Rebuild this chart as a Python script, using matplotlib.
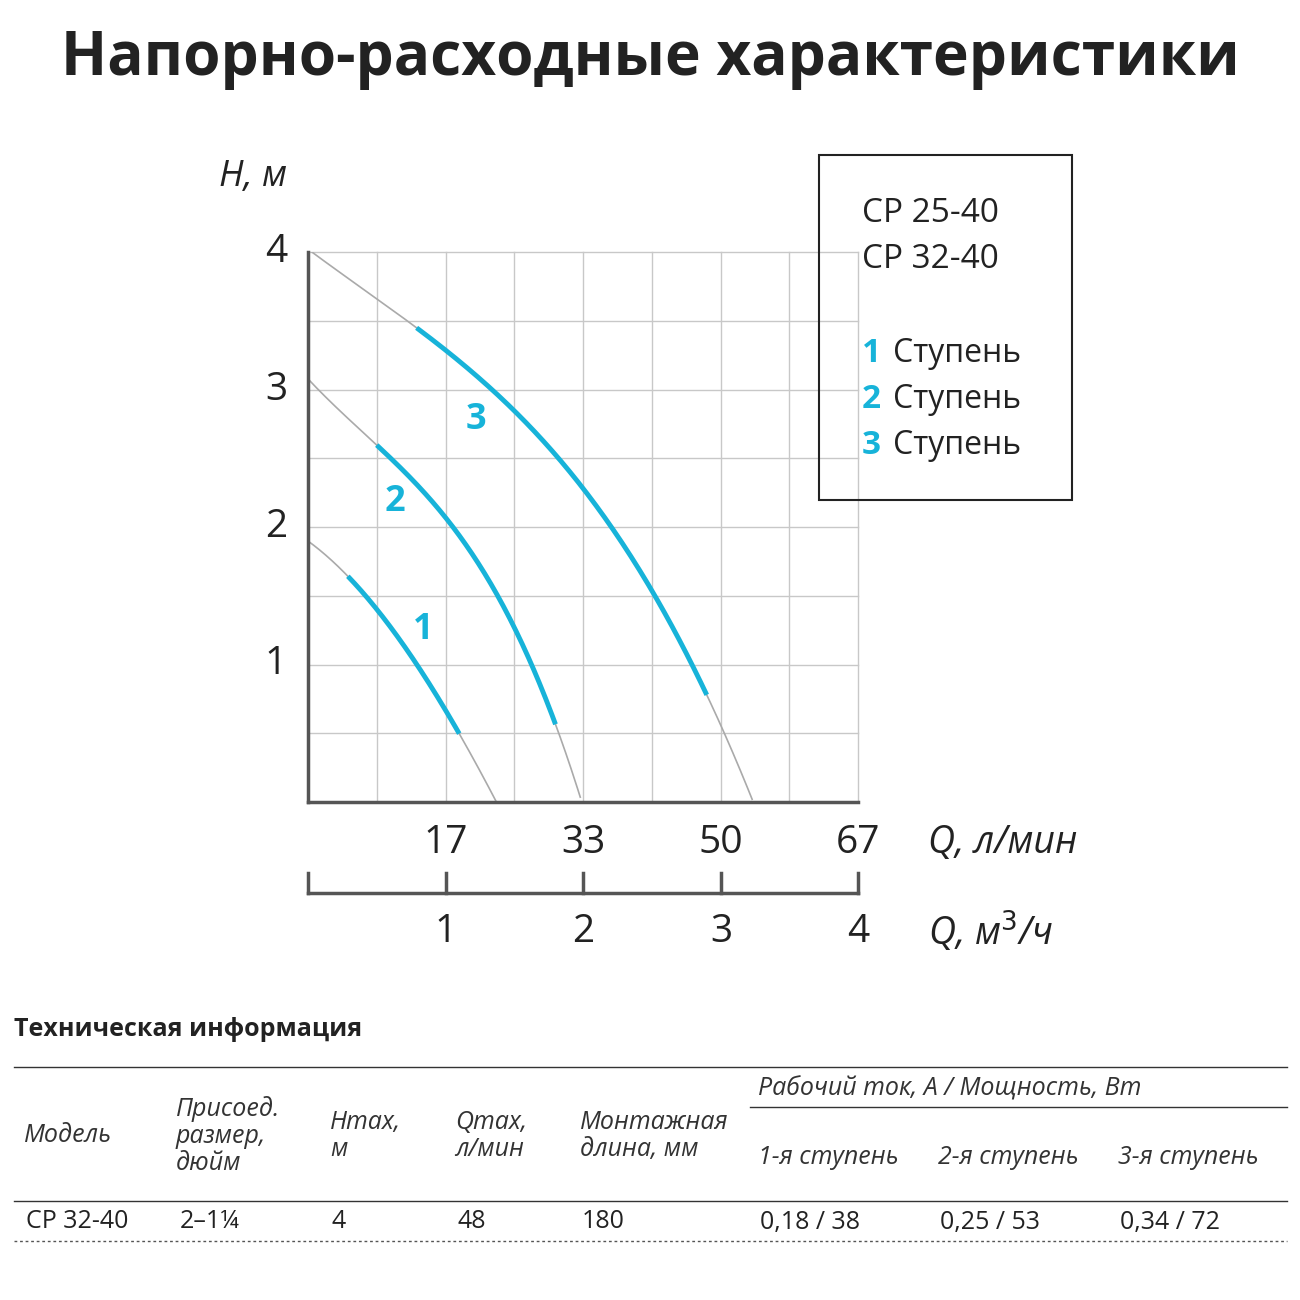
import numpy as np
import matplotlib
matplotlib.use("Agg")
import matplotlib.pyplot as plt
from matplotlib.lines import Line2D
from matplotlib.patches import Rectangle

plt.rcParams['font.family'] = ['Open Sans', 'DejaVu Sans']

# Data (Q in m3/h, H in m)
curve_q = [[0, 0.29, 0.5, 0.75, 1.1, 1.37],
           [0, 0.25, 0.5, 1.0, 1.5, 1.8, 1.98],
           [0, 0.5, 0.79, 1.0, 1.5, 2.0, 2.5, 2.9, 3.23]]
curve_h = [[1.9, 1.63, 1.42, 1.05, 0.5, 0.0],
           [3.05, 2.87, 2.61, 2.01, 1.29, 0.61, 0.0],
           [4.0, 3.72, 3.44, 3.25, 2.85, 2.27, 1.54, 0.81, 0.0]]
blue_range = [(0.29, 1.1), (0.5, 1.8), (0.79, 2.9)]
curve_labels = ['1', '2', '3']
label_pos = [(0.84, 1.25), (0.63, 2.18), (1.22, 2.78)]
q_lmin = ['17', '33', '50', '67']
q_m3h = ['1', '2', '3', '4']
legend_models = ['CP 25-40', 'CP 32-40']
legend_steps = ['Ступень', 'Ступень', 'Ступень']

blue = '#17b3d9'
W = 1300
fig = plt.figure(figsize=(13, 13), dpi=100)
def fx(x): return x / W
def fy(y): return 1 - y / W

fig.text(0.5, fy(60), 'Напорно-расходные характеристики', ha='center', va='center',
         fontsize=43.5, fontweight='bold', color='#222222')

ax = fig.add_axes([fx(308), fy(802), 550 / W, 550 / W])
ax.set_xlim(0, 4); ax.set_ylim(0, 4)
for v in np.arange(0.5, 4.01, 0.5):
    ax.axvline(v, color='#c8c8c8', lw=1, zorder=0, clip_on=False)
    ax.axhline(v, color='#c8c8c8', lw=1, zorder=0, clip_on=False)
for s in ['top', 'right']:
    ax.spines[s].set_visible(False)
for s in ['left', 'bottom']:
    ax.spines[s].set_color('#555555'); ax.spines[s].set_linewidth(2.5)
ax.set_xticks([]); ax.set_yticks([])

for q, h, (a, b), lab, lp in zip(curve_q, curve_h, blue_range, curve_labels, label_pos):
    c = np.polyfit(q, h, 3)
    xs = np.linspace(0, q[-1], 300)
    ys = np.clip(np.polyval(c, xs), 0, None)
    ax.plot(xs, ys, color='#aaaaaa', lw=1.2, zorder=2)
    xb = np.linspace(a, b, 200)
    ax.plot(xb, np.polyval(c, xb), color=blue, lw=3.5, zorder=3, solid_capstyle='butt')
    ax.text(lp[0], lp[1], lab, color=blue, fontsize=26, fontweight='bold', ha='center', va='center')

for i, t in enumerate(['1', '2', '3', '4']):
    fig.text(fx(276), fy(802 - 137.5 * (i + 1)), t, fontsize=28, ha='center', va='center', color='#222222')
fig.text(fx(253), fy(177), 'H, м', fontsize=26, style='italic', ha='center', va='center', color='#222222')

for i, t in enumerate(q_lmin):
    fig.text(fx(446 + 137.5 * i), fy(843), t, fontsize=28, ha='center', va='center', color='#222222')
fig.text(fx(928), fy(843), 'Q, л/мин', fontsize=27, style='italic', ha='left', va='center', color='#222222')
for i, t in enumerate(q_m3h):
    fig.text(fx(446 + 137.5 * i), fy(932), t, fontsize=28, ha='center', va='center', color='#222222')
fig.text(fx(928), fy(932), 'Q, м$^3$/ч', fontsize=27, style='italic', ha='left', va='center', color='#222222')

fig.add_artist(Line2D([fx(308), fx(858)], [fy(893), fy(893)], color='#555555', lw=2.5))
for i in range(5):
    x = fx(308 + 137.5 * i)
    fig.add_artist(Line2D([x, x], [fy(873), fy(893)], color='#555555', lw=2.5))

fig.add_artist(Rectangle((fx(819), fy(500)), 253 / W, 345 / W, fill=False, ec='#222222', lw=1.5))
for i, t in enumerate(legend_models):
    fig.text(fx(862), fy(213 + 46 * i), t, fontsize=24, va='center', color='#222222')
for i, t in enumerate(legend_steps):
    y = fy(353 + 46.5 * i)
    fig.text(fx(862), y, str(i + 1), fontsize=24, fontweight='bold', color=blue, va='center')
    fig.text(fx(893), y, t, fontsize=23, va='center', color='#222222')

# Table
fig.text(fx(14), fy(1030), 'Техническая информация', fontsize=18, fontweight='bold', va='center', color='#222222')
fig.add_artist(Line2D([fx(14), fx(1287)], [fy(1067), fy(1067)], color='#333333', lw=1))
fig.add_artist(Line2D([fx(750), fx(1287)], [fy(1107), fy(1107)], color='#333333', lw=1))
fig.add_artist(Line2D([fx(14), fx(1287)], [fy(1201), fy(1201)], color='#333333', lw=1))
fig.add_artist(Line2D([fx(14), fx(1287)], [fy(1241), fy(1241)], color='#555555', lw=1, ls=(0, (2, 2))))
hdr = dict(fontsize=18, style='italic', color='#333333', va='center', linespacing=1.1)
fig.text(fx(24), fy(1136), 'Модель', **hdr)
fig.text(fx(176), fy(1136), 'Присоед.\nразмер,\nдюйм', **hdr)
fig.text(fx(330), fy(1136), 'Hmax,\nм', **hdr)
fig.text(fx(455), fy(1136), 'Qmax,\nл/мин', **hdr)
fig.text(fx(580), fy(1136), 'Монтажная\nдлина, мм', **hdr)
fig.text(fx(758), fy(1089), 'Рабочий ток, А / Мощность, Вт', **hdr)
for x, t in [(758, '1-я ступень'), (938, '2-я ступень'), (1118, '3-я ступень')]:
    fig.text(fx(x), fy(1157), t, **hdr)
row = ['CP 32-40', '2–1¼', '4', '48', '180', '0,18 / 38', '0,25 / 53', '0,34 / 72']
xs = [26, 180, 332, 457, 582, 760, 940, 1120]
for x, t in zip(xs, row):
    fig.text(fx(x), fy(1222), t, fontsize=18, color='#222222', va='center')

fig.savefig('out.png', dpi=100, facecolor='white')
